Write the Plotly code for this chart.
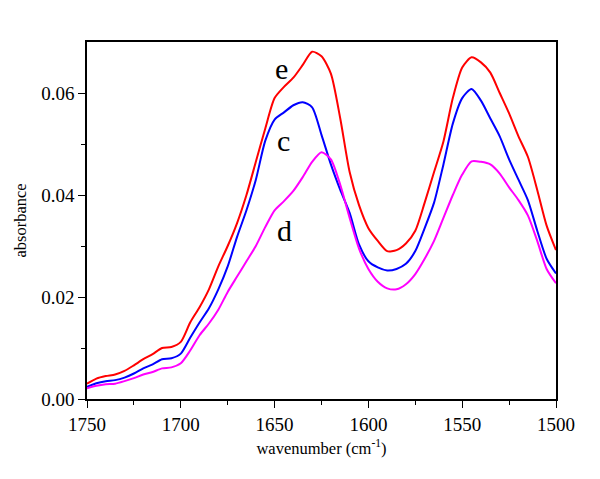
import plotly.graph_objects as go

wavenumber = list(range(1750, 1499, -5))

absorb_e = [0.0030, 0.0040, 0.0045, 0.0048, 0.0055, 0.0066, 0.0078, 0.0088, 0.0100, 0.0102,
            0.0112, 0.0150, 0.0180, 0.0215, 0.0260, 0.0300, 0.0345, 0.0400, 0.0465, 0.0530,
            0.0590, 0.0612, 0.0630, 0.0655, 0.0681, 0.0672, 0.0638, 0.0550, 0.0445, 0.0380,
            0.0335, 0.0310, 0.0290, 0.0292, 0.0305, 0.0330, 0.0385, 0.0445, 0.0505, 0.0590,
            0.0650, 0.0670, 0.0660, 0.0640, 0.0600, 0.0560, 0.0515, 0.0475, 0.0410, 0.0340,
            0.0292]

absorb_c = [0.0024, 0.0031, 0.0035, 0.0037, 0.0042, 0.0050, 0.0060, 0.0068, 0.0078, 0.0080,
            0.0089, 0.0120, 0.0150, 0.0178, 0.0215, 0.0260, 0.0318, 0.0370, 0.0430, 0.0506,
            0.0548, 0.0562, 0.0576, 0.0582, 0.0572, 0.0518, 0.0460, 0.0410, 0.0365, 0.0303,
            0.0270, 0.0258, 0.0252, 0.0255, 0.0265, 0.0290, 0.0335, 0.0385, 0.0460, 0.0540,
            0.0590, 0.0608, 0.0585, 0.0550, 0.0515, 0.0470, 0.0430, 0.0390, 0.0330, 0.0275,
            0.0246]

absorb_d = [0.0021, 0.0026, 0.0029, 0.0030, 0.0035, 0.0041, 0.0048, 0.0053, 0.0060, 0.0062,
            0.0070, 0.0095, 0.0125, 0.0148, 0.0175, 0.0210, 0.0240, 0.0270, 0.0300, 0.0337,
            0.0370, 0.0388, 0.0408, 0.0435, 0.0465, 0.0484, 0.0470, 0.0420, 0.0355, 0.0295,
            0.0255, 0.0230, 0.0217, 0.0215, 0.0225, 0.0245, 0.0275, 0.0310, 0.0355, 0.0400,
            0.0440, 0.0466, 0.0465, 0.0460, 0.0442, 0.0415, 0.0390, 0.0360, 0.0310, 0.0255,
            0.0227]

series = [("e", absorb_e, "#ff0000"), ("c", absorb_c, "#0000ff"), ("d", absorb_d, "#ff00ff")]
labels = [("e", 1646.5, 0.0648), ("c", 1645.5, 0.0507), ("d", 1644.5, 0.0330)]

FONT = "Liberation Serif, Times New Roman, serif"

fig = go.Figure()
for name, vals, col in series:
    fig.add_trace(go.Scatter(x=wavenumber, y=vals, mode="lines", name=name,
                             line=dict(color=col, width=2, shape="spline", smoothing=0.7)))

for txt, xv, yv in labels:
    fig.add_annotation(x=xv, y=yv, text=txt, showarrow=False,
                       font=dict(family=FONT, size=30, color="black"))

axis_common = dict(showline=True, linecolor="black", linewidth=1.5, mirror=True,
                   ticks="outside", ticklen=7, tickwidth=1.2, tickcolor="black",
                   showgrid=False, zeroline=False,
                   tickfont=dict(family=FONT, size=19, color="black"))

fig.update_xaxes(range=[1750, 1500], tickvals=[1750, 1700, 1650, 1600, 1550, 1500],
                 minor=dict(tickvals=[1725, 1675, 1625, 1575, 1525], ticks="outside",
                            ticklen=4, tickcolor="black", tickwidth=1.2),
                 title=dict(text="wavenumber (cm<sup>-1</sup>)",
                            font=dict(family=FONT, size=16.5, color="black"), standoff=9),
                 **axis_common)
fig.update_yaxes(range=[0, 0.07], tickvals=[0, 0.02, 0.04, 0.06], tickformat=".2f",
                 minor=dict(tickvals=[0.01, 0.03, 0.05], ticks="outside",
                            ticklen=4, tickcolor="black", tickwidth=1.2),
                 title=dict(text="absorbance",
                            font=dict(family=FONT, size=16.5, color="black"), standoff=10),
                 **axis_common)

# the page body has an 8px margin, so the figure is sized to fit inside the window
fig.update_layout(width=592, height=471, margin=dict(l=76, r=44, t=34, b=80),
                  plot_bgcolor="white", paper_bgcolor="white", showlegend=False)

fig.write_html("out.html")
